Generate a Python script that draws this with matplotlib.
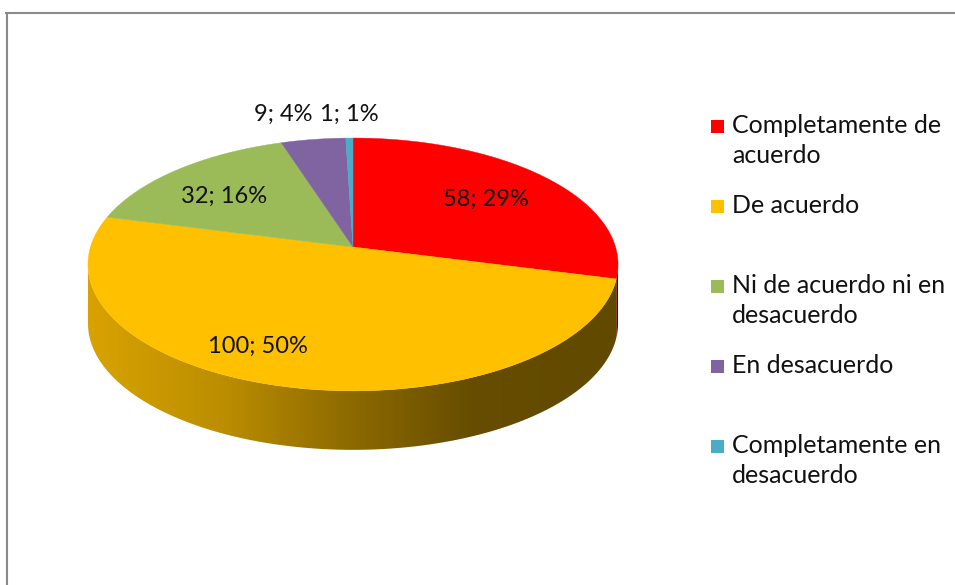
import matplotlib
matplotlib.use("Agg")
import matplotlib.pyplot as plt
import numpy as np
from matplotlib.patches import Polygon, Rectangle
from matplotlib.colors import to_rgb

# data
categorias = ["Completamente de\nacuerdo", "De acuerdo", "Ni de acuerdo ni en\ndesacuerdo",
              "En desacuerdo", "Completamente en\ndesacuerdo"]
valores = [58, 100, 32, 9, 1]
porcentajes = [29, 50, 16, 4, 1]
colores = ["#FF0000", "#FFC000", "#9BBB59", "#8064A2", "#4BACC6"]

# pie geometry (pixels), Excel-like 3D perspective
CX, CY = 353, 247
RX, RY = 262.5, 124
K = 0.138
DEPTH = 59
FONT = "Lato"

# label anchors (baseline centre)
label_xy = [(486, 206), (258, 353), (224, 203), (283, 121), (349, 121)]


def proj(theta, r=1.0, dz=0.0):
    a = np.radians(90 - np.asarray(theta))
    u = r * np.cos(a)
    v = r * np.sin(a)
    w = 1 + K * v
    return CX + RX * u / w, CY - RY * v / w + dz


fig = plt.figure(figsize=(9.55, 5.85), dpi=100)
ax = fig.add_axes([0, 0, 1, 1])
ax.axis("off")

# frame
ax.plot([5, 955], [13, 13], color="#8a8a8a", lw=1.5, solid_capstyle="butt")
ax.plot([7, 7], [13, 585], color="#8a8a8a", lw=1.5, solid_capstyle="butt")

total = sum(valores)
bordes = np.concatenate([[0], np.cumsum(valores)]) / total * 360

# visible side of the cylinder
t_right = 90 + np.degrees(np.arcsin(K))
t_left = 360 - t_right

# gradient of side brightness from left to right
gx = np.linspace(0, 1, 400)
gf = np.interp(gx, [0, 0.25, 0.5, 0.72, 1.0], [0.85, 0.74, 0.55, 0.40, 0.38])
x0, x1 = CX - RX * 1.02, CX + RX * 1.02

for i in range(len(valores)):
    s = max(bordes[i], t_right)
    e = min(bordes[i + 1], t_left)
    if e <= s:
        continue
    th = np.linspace(s, e, 200)
    xt, yt = proj(th)
    xb, yb = proj(th[::-1], dz=DEPTH)
    pts = np.column_stack([np.concatenate([xt, xb]), np.concatenate([yt, yb])])
    poly = Polygon(pts, closed=True, facecolor="none", edgecolor="none")
    ax.add_patch(poly)
    base = np.array(to_rgb(colores[i]))
    img = (gf[:, None] * base[None, :])[None, :, :]
    im = ax.imshow(img, extent=[x0, x1, CY + 230, CY - 130], aspect="auto",
                   interpolation="bilinear", zorder=1)
    im.set_clip_path(poly)

# top face
for i in range(len(valores)):
    th = np.linspace(bordes[i], bordes[i + 1], 200)
    xs, ys = proj(th)
    pts = np.column_stack([np.concatenate([[CX], xs]), np.concatenate([[CY], ys])])
    ax.add_patch(Polygon(pts, closed=True, facecolor=colores[i], edgecolor=colores[i],
                         lw=0.3, zorder=2))

# data labels
for i in range(len(valores)):
    lx, ly = label_xy[i]
    ax.text(lx, ly, f"{valores[i]}; {porcentajes[i]}%", ha="center", va="baseline",
            fontsize=17, family=FONT, color="#111111", zorder=3)

# legend
for i, cat in enumerate(categorias):
    yc = 126 + 80 * i
    ax.add_patch(Rectangle((711, yc - 6.5), 13, 13, facecolor=colores[i], edgecolor="none"))
    for j, linea in enumerate(cat.split("\n")):
        ax.text(732, yc + 7 + 30 * j, linea, ha="left", va="baseline",
                fontsize=18, family=FONT, color="#111111")

ax.set_xlim(0, 955)
ax.set_ylim(585, 0)
fig.savefig("out.png", dpi=100)
